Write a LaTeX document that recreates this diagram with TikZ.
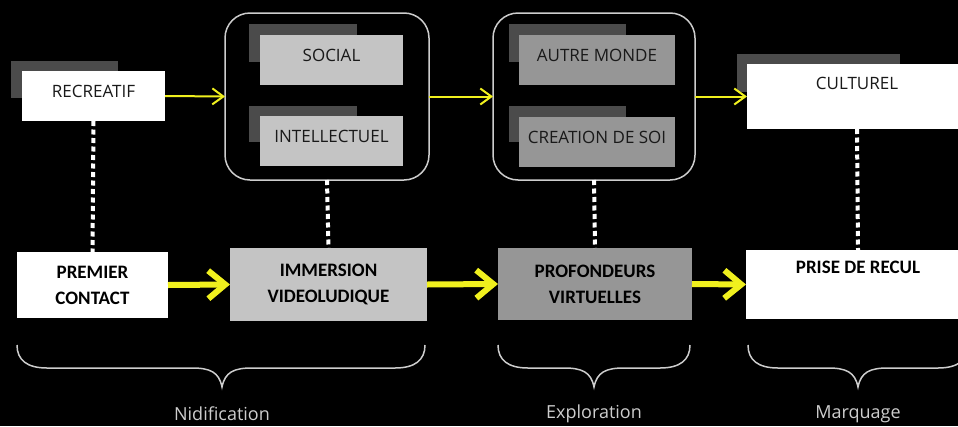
\documentclass[tikz,border=0pt]{standalone}
\usepackage{fontspec}
\setmainfont{Carlito}
\newfontfamily\thinfont{Open Sans}
\usepackage{tikz}
\usetikzlibrary{positioning}
\usetikzlibrary{arrows.meta, calc}
\definecolor{arrowyellow}{RGB}{240,240,30}
\definecolor{shadowgray}{RGB}{75,75,75}
\definecolor{palegray}{RGB}{196,196,196}
\definecolor{deepgray}{RGB}{150,150,150}
\definecolor{linegray}{RGB}{205,205,205}
\tikzstyle{tag} = [rectangle, inner sep=0pt, outer sep=0pt, align=center, text=black!90, text depth=9pt, font=\thinfont\fontsize{17}{22}\selectfont]
\tikzstyle{stage} = [rectangle, inner sep=0pt, outer sep=0pt, align=center, text=black, font=\bfseries\fontsize{19}{26}\selectfont]
\tikzstyle{group} = [rectangle, rounded corners=25pt, draw=linegray, line width=1.5pt, inner sep=0pt, outer sep=0pt]
\tikzstyle{thinarrow} = [arrowyellow, line width=2pt, -{Straight Barb[length=11pt,width=16pt]}]
\tikzstyle{thickarrow} = [arrowyellow, line width=6pt, -{Straight Barb[length=17pt,width=28pt]}]
\tikzstyle{dots} = [white, line width=4pt, dash pattern=on 5pt off 3.5pt]
\tikzstyle{curly} = [linegray, line width=1.5pt]
\tikzstyle{phase} = [text=linegray, font=\thinfont\fontsize{18}{22}\selectfont]

\begin{document}
\begin{tikzpicture}[x=1pt,y=-1pt]
\fill[black] (0,0) rectangle (958,426);
\useasboundingbox (0,0) rectangle (958,426);
% ombres
\fill[shadowgray] (11,61) rectangle (118,98);
\fill[shadowgray] (249,24) rectangle (357,62);
\fill[shadowgray] (249,106) rectangle (357,142);
\fill[shadowgray] (509,24) rectangle (626,62);
\fill[shadowgray] (509,106) rectangle (626,142);
\fill[shadowgray] (737,54) rectangle (900,92);
% haut
\draw (93.5,96) node (recre) [tag, fill=white, minimum width=143pt, minimum height=50pt] {RECREATIF};
\draw (331.5,60) node (social) [tag, fill=palegray, minimum width=143pt, minimum height=50pt] {SOCIAL};
\draw (331.5,141) node (intel) [tag, fill=palegray, minimum width=143pt, minimum height=50pt] {INTELLECTUEL};
\draw (597,60) node (autre) [tag, fill=deepgray, minimum width=156pt, minimum height=50pt] {AUTRE MONDE};
\draw (597,141.5) node (creat) [tag, fill=deepgray, minimum width=156pt, minimum height=50pt] {CREATION DE SOI};
\draw (857,96.5) node (cult) [tag, fill=white, text depth=26pt, minimum width=220pt, minimum height=65pt] {CULTUREL};
\draw (327,96.5) node (grpa) [group, minimum width=204pt, minimum height=167pt] {};
\draw (594,96.5) node (grpb) [group, minimum width=202pt, minimum height=167pt] {};
% bas
\draw (92.5,285) node (premier) [stage, fill=white, minimum width=151pt, minimum height=66pt] {PREMIER\\CONTACT};
\draw (328.5,284.5) node (immers) [stage, fill=palegray, minimum width=197pt, minimum height=73pt] {IMMERSION\\VIDEOLUDIQUE};
\draw (595,284) node (profond) [stage, fill=deepgray, minimum width=194pt, minimum height=72pt] {PROFONDEURS\\VIRTUELLES};
\draw (858,284.5) node (recul) [stage, fill=white, minimum width=224pt, minimum height=69pt] {PRISE DE RECUL\\ \strut};
% fleches
\draw[thinarrow] (recre.east)--(grpa.west);
\draw[thinarrow] (grpa.east)--(grpb.west);
\draw[thinarrow] (grpb.east)--(cult.west);
\draw[thickarrow] (premier.east)--(immers.west);
\draw[thickarrow] (immers.east)--(profond.west);
\draw[thickarrow] (profond.east)--(recul.west);
\draw[dots] (recre.south)--(premier.north);
\draw[dots] (grpa.south)--(immers.north);
\draw[dots] (grpb.south)--(profond.north);
\draw[dots] (cult.south)--(recul.north);
% accolades
\foreach \l/\m/\r in {17/222/425, 498/594/690, 748/858/968}
  \draw[curly] (\l,345) .. controls (\l,360) and (\l+10,368) .. (\l+30,368) -- (\m-30,368) .. controls (\m-12,368) and (\m-3,372) .. (\m,387) .. controls (\m+3,372) and (\m+12,368) .. (\m+30,368) -- (\r-30,368) .. controls (\r-10,368) and (\r,360) .. (\r,345);
\draw (222,414) node (nidif) [phase] {Nidification};
\draw (594,414) node (explo) [phase] {Exploration};
\draw (858,414) node (marq) [phase] {Marquage};
\end{tikzpicture}
\end{document}
